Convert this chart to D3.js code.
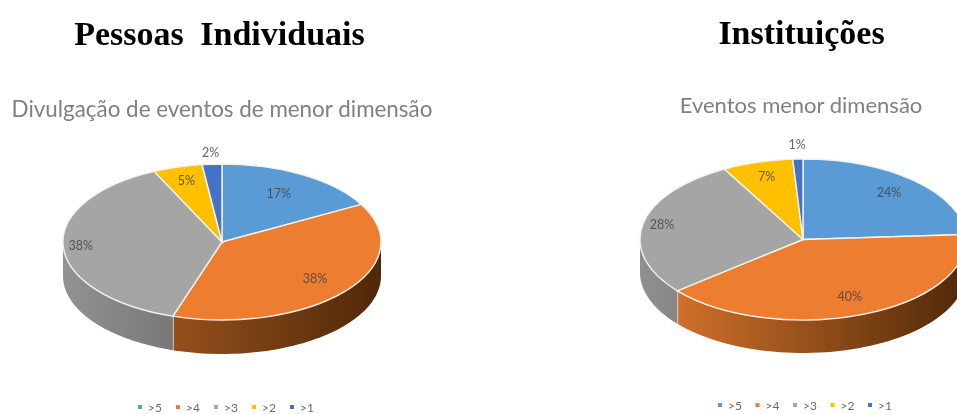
<!DOCTYPE html>
<html>
<head>
<meta charset="utf-8">
<script src="https://cdn.jsdelivr.net/npm/d3@7"></script>
<style>
  html, body { margin: 0; padding: 0; background: #fff; }
  svg { display: block; filter: blur(0.5px); }
</style>
</head>
<body>
<svg id="chart" width="957" height="414"></svg>
<script>
const categories = ['>5', '>4', '>3', '>2', '>1']
const colors = ['#5b9bd5', '#ed7d31', '#a5a5a5', '#ffc000', '#4472c4']

const individuais = [17, 38, 38, 5, 2]
const instituicoes = [24, 40, 28, 7, 1]

const svg = d3.select('#chart')
const defs = svg.append('defs')
let gradId = 0

function wallGradient (stops) {
  const id = 'wall' + gradId++
  const g = defs.append('linearGradient').attr('id', id)
  g.append('stop').attr('offset', 0).attr('stop-color', stops[0])
  g.append('stop').attr('offset', 1).attr('stop-color', stops[1])
  return 'url(#' + id + ')'
}

function drawPie (cfg) {
  const x = d3.scaleLinear().domain([-1, 1]).range([cfg.cx - cfg.rx, cfg.cx + cfg.rx])
  const y = d3.scaleLinear().domain([-1, 1]).range([cfg.cy - cfg.ry, cfg.cy + cfg.ry])
  const pie = d3.pie().sort(null).value(d => d.value)
  const slices = pie(categories.map((c, i) => ({ cat: c, value: cfg.values[i], color: colors[i] })))
  const rim = d3.line()
  const onRim = a => [x(Math.sin(a)), y(-Math.cos(a))]

  const root = svg.append('g')

  // walls first, only the part of the rim facing us
  slices.forEach(s => {
    const a0 = Math.max(s.startAngle, Math.PI / 2)
    const a1 = Math.min(s.endAngle, Math.PI * 1.5)
    if (a1 <= a0) return
    const top = d3.range(0, 61).map(i => onRim(a0 + (a1 - a0) * i / 60))
    const bottom = top.slice().reverse().map(p => [p[0], p[1] + cfg.depth])
    root.append('path')
      .attr('d', rim(top.concat(bottom)) + 'Z')
      .attr('fill', wallGradient(cfg.walls[s.data.cat] || [s.data.color, s.data.color]))
      .attr('stroke', 'none')
    if (s.endAngle < Math.PI * 1.5) {
      const p = onRim(s.endAngle)
      root.append('line')
        .attr('x1', p[0]).attr('y1', p[1])
        .attr('x2', p[0]).attr('y2', p[1] + cfg.depth)
        .attr('stroke', '#f4f0ec').attr('stroke-width', 1.5)
    }
  })

  // top face: plain d3 arcs squashed into an ellipse
  const arc = d3.arc().innerRadius(0).outerRadius(1)
  root.append('g')
    .attr('transform', 'translate(' + cfg.cx + ',' + cfg.cy + ') scale(' + cfg.rx + ',' + cfg.ry + ')')
    .selectAll('path')
    .data(slices)
    .join('path')
    .attr('d', arc)
    .attr('fill', d => d.data.color)
    .attr('stroke', '#f5f2ee')
    .attr('stroke-width', 1.4)
    .attr('vector-effect', 'non-scaling-stroke')

  // data labels sit along the slice bisector
  root.selectAll('text')
    .data(slices)
    .join('text')
    .attr('x', (d, i) => x(Math.sin((d.startAngle + d.endAngle) / 2) * cfg.labelRadius[i]))
    .attr('y', (d, i) => y(-Math.cos((d.startAngle + d.endAngle) / 2) * cfg.labelRadius[i]))
    .attr('text-anchor', 'middle')
    .attr('dominant-baseline', 'middle')
    .attr('font-family', 'Lato, sans-serif')
    .attr('font-size', 12.5)
    .attr('fill', '#404040')
    .attr('fill-opacity', 0.8)
    .text(d => d.data.value + '%')

  // titles
  svg.append('text')
    .attr('x', cfg.titleX).attr('y', cfg.titleY)
    .attr('text-anchor', 'middle')
    .attr('font-family', '"Liberation Serif", serif')
    .attr('font-weight', 'bold')
    .attr('font-size', 34)
    .attr('word-spacing', 8)
    .attr('fill', '#000')
    .text(cfg.title)
  svg.append('text')
    .attr('x', cfg.subX).attr('y', cfg.subY)
    .attr('text-anchor', 'middle')
    .attr('font-family', 'Lato, sans-serif')
    .attr('font-size', cfg.subSize)
    .attr('fill', '#808080')
    .text(cfg.subtitle)

  // legend
  const legendX = d3.scalePoint().domain(categories).range(cfg.legendRange)
  const items = svg.append('g').selectAll('g')
    .data(categories)
    .join('g')
    .attr('transform', d => 'translate(' + legendX(d) + ',' + cfg.legendY + ')')
  items.append('rect')
    .attr('x', -2).attr('y', -2).attr('width', 4).attr('height', 4)
    .attr('fill', (d, i) => colors[i])
  items.append('text')
    .attr('x', 8).attr('y', 4.5)
    .attr('font-family', 'Lato, sans-serif')
    .attr('font-size', 12)
    .attr('fill', '#6a6a6a')
    .text(d => d)
}

drawPie({
  values: individuais,
  title: 'Pessoas Individuais',
  subtitle: 'Divulgação de eventos de menor dimensão',
  titleX: 219.5, titleY: 45, subX: 222, subY: 117, subSize: 22.4,
  cx: 222, cy: 242, rx: 159, ry: 78, depth: 34,
  walls: { '>4': ['#964f1c', '#4f2808'], '>3': ['#929292', '#787878'] },
  labelRadius: [0.70, 0.76, 0.89, 0.80, 1.13],
  legendRange: [140, 292], legendY: 407
})

drawPie({
  values: instituicoes,
  title: 'Instituições',
  subtitle: 'Eventos menor dimensão',
  titleX: 801.5, titleY: 44, subX: 801, subY: 113, subSize: 22,
  cx: 803, cy: 239.5, rx: 163, ry: 80.5, depth: 33,
  walls: { '>4': ['#d0702a', '#4f2808'], '>3': ['#909090', '#868686'] },
  labelRadius: [0.77, 0.78, 0.88, 0.80, 1.16],
  legendRange: [720, 870], legendY: 405
})
</script>
</body>
</html>
